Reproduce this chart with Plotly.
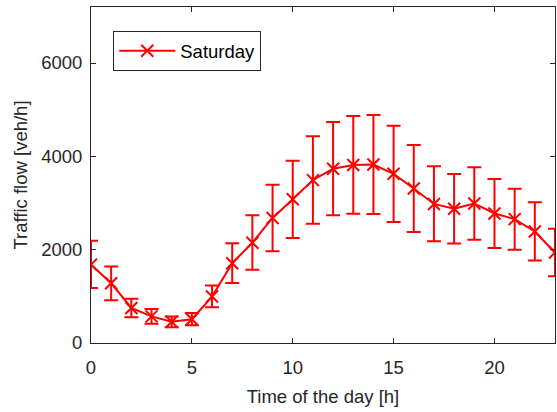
import plotly.graph_objects as go

hours = list(range(24))
flow_mean = [1680, 1280, 750, 570, 455, 510, 995, 1710, 2150, 2680, 3080, 3490, 3735, 3815, 3825, 3625, 3310, 2980, 2875, 2990, 2775, 2655, 2390, 1940]
flow_upper = [2190, 1640, 950, 730, 570, 645, 1230, 2140, 2735, 3390, 3905, 4430, 4735, 4865, 4885, 4655, 4245, 3785, 3620, 3765, 3515, 3305, 3015, 2450]
flow_lower = [1180, 915, 550, 415, 335, 380, 765, 1285, 1570, 1965, 2250, 2555, 2735, 2770, 2765, 2595, 2380, 2180, 2130, 2215, 2035, 2000, 1770, 1430]

err_plus = [u - m for u, m in zip(flow_upper, flow_mean)]
err_minus = [m - l for m, l in zip(flow_mean, flow_lower)]

red = "#FF0000"
fs = 18.5
fig = go.Figure()
fig.add_trace(go.Scatter(
    x=hours, y=flow_mean, mode="lines+markers", name="Saturday",
    line=dict(color=red, width=2),
    marker=dict(symbol="x-thin", size=12, line=dict(color=red, width=2), color=red),
    error_y=dict(type="data", symmetric=False, array=err_plus, arrayminus=err_minus,
                 color=red, thickness=2, width=7),
))

axis_common = dict(
    showline=True, linecolor="#262626", linewidth=1, mirror="ticks",
    ticks="inside", ticklen=5, tickcolor="#262626", showgrid=False, zeroline=False,
    tickfont=dict(family="Liberation Sans, Arial, sans-serif", size=fs, color="#262626"),
)
fig.update_layout(
    width=557, height=412,
    margin=dict(l=91, r=2, t=7, b=69),
    paper_bgcolor="white", plot_bgcolor="white",
    font=dict(family="Liberation Sans, Arial, sans-serif", color="#262626"),
    xaxis=dict(range=[0, 23], tickvals=[0, 5, 10, 15, 20], ticklabelstandoff=8,
               title=dict(text="Time of the day [h]", font=dict(size=fs), standoff=12), **axis_common),
    yaxis=dict(range=[0, 7200], tickvals=[0, 2000, 4000, 6000], ticklabelstandoff=4,
               title=dict(text="Traffic flow [veh/h]", font=dict(size=fs), standoff=8), **axis_common),
    showlegend=True,
    legend=dict(x=0.048, y=0.928, xanchor="left", yanchor="top", itemwidth=56,
                entrywidth=155, entrywidthmode="pixels",
                bordercolor="#262626", borderwidth=1, bgcolor="white",
                font=dict(size=fs, color="black")),
)
fig.write_html("out.html", config={"displayModeBar": False},
               post_script="document.body.style.margin='0';")
